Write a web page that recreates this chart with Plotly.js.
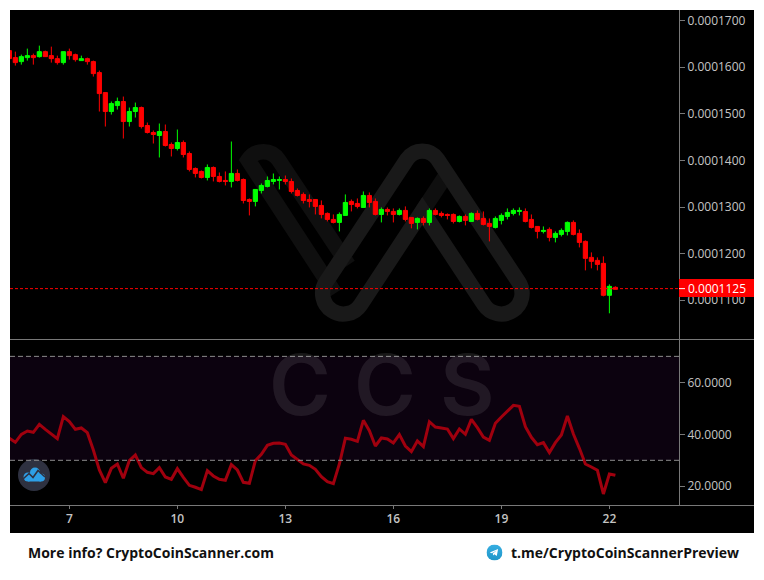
<!DOCTYPE html>
<html>
<head>
<meta charset="utf-8">
<script src="https://cdn.plot.ly/plotly-3.0.1.min.js"></script>
<style>
  html, body { margin: 0; padding: 0; background: #fff; }
  #chart { width: 764px; height: 580px; }
</style>
</head>
<body>
<div id="chart"></div>
<script>
// 4h candles
const opens = [
  0.00016354, 0.00016204, 0.00016118, 0.00016204, 0.00016247, 0.00016225, 0.00016332, 0.00016247, 0.00016182, 0.00016097,
  0.00016332, 0.00016268, 0.00016140, 0.00016182, 0.00016118, 0.00015883, 0.00015454, 0.00015048, 0.00015176, 0.00015262,
  0.00014833, 0.00015048, 0.00015133, 0.00014748, 0.00014598, 0.00014534, 0.00014619, 0.00014341, 0.00014255, 0.00014384,
  0.00014148, 0.00013827, 0.00013763, 0.00013634, 0.00013848, 0.00013656, 0.00013570, 0.00013549, 0.00013720, 0.00013591,
  0.00013162, 0.00013120, 0.00013355, 0.00013441, 0.00013548, 0.00013569, 0.00013591, 0.00013548, 0.00013355, 0.00013270,
  0.00013162, 0.00013162, 0.00013034, 0.00012863, 0.00012734, 0.00012670, 0.00012820, 0.00013120, 0.00013077, 0.00012991,
  0.00013248, 0.00013120, 0.00012841, 0.00012948, 0.00012906, 0.00012841, 0.00012927, 0.00012777, 0.00012670, 0.00012755,
  0.00012670, 0.00012927, 0.00012863, 0.00012841, 0.00012841, 0.00012691, 0.00012798, 0.00012691, 0.00012863, 0.00012755,
  0.00012648, 0.00012563, 0.00012713, 0.00012798, 0.00012863, 0.00012905, 0.00012905, 0.00012734, 0.00012584, 0.00012477,
  0.00012520, 0.00012349, 0.00012413, 0.00012477, 0.00012670, 0.00012434, 0.00012263, 0.00011920, 0.00011856, 0.00011792,
  0.00011107, 0.00011278
];
const highs = [
  0.00016354, 0.00016332, 0.00016268, 0.00016397, 0.00016290, 0.00016461, 0.00016354, 0.00016439, 0.00016247, 0.00016332,
  0.00016397, 0.00016290, 0.00016247, 0.00016204, 0.00016140, 0.00015926, 0.00015454, 0.00015262, 0.00015347, 0.00015369,
  0.00015133, 0.00015240, 0.00015155, 0.00014812, 0.00014641, 0.00014791, 0.00014769, 0.00014384, 0.00014662, 0.00014427,
  0.00014191, 0.00013848, 0.00013784, 0.00013913, 0.00013870, 0.00013741, 0.00013763, 0.00014405, 0.00013806, 0.00013612,
  0.00013184, 0.00013377, 0.00013505, 0.00013655, 0.00013719, 0.00013655, 0.00013676, 0.00013612, 0.00013398, 0.00013312,
  0.00013270, 0.00013162, 0.00013141, 0.00012884, 0.00012841, 0.00012884, 0.00013270, 0.00013162, 0.00013184, 0.00013334,
  0.00013312, 0.00013184, 0.00012991, 0.00012991, 0.00012970, 0.00012970, 0.00013013, 0.00012777, 0.00012777, 0.00012798,
  0.00012970, 0.00012970, 0.00012905, 0.00012863, 0.00012863, 0.00012820, 0.00012841, 0.00012884, 0.00012927, 0.00012905,
  0.00012755, 0.00012798, 0.00012863, 0.00012970, 0.00012970, 0.00012991, 0.00012970, 0.00012841, 0.00012584, 0.00012584,
  0.00012563, 0.00012477, 0.00012541, 0.00012691, 0.00012713, 0.00012520, 0.00012284, 0.00012027, 0.00011920, 0.00011942,
  0.00011342, 0.00011299
];
const lows = [
  0.00016182, 0.00016033, 0.00016054, 0.00016140, 0.00016054, 0.00016204, 0.00016225, 0.00016097, 0.00016054, 0.00016054,
  0.00016161, 0.00016118, 0.00016140, 0.00016054, 0.00015797, 0.00015048, 0.00014726, 0.00014983, 0.00015090, 0.00014469,
  0.00014726, 0.00014919, 0.00014684, 0.00014576, 0.00014362, 0.00014063, 0.00014298, 0.00014084, 0.00014212, 0.00014063,
  0.00013763, 0.00013634, 0.00013613, 0.00013570, 0.00013549, 0.00013527, 0.00013463, 0.00013420, 0.00013549, 0.00013077,
  0.00012820, 0.00013013, 0.00013291, 0.00013420, 0.00013484, 0.00013377, 0.00013484, 0.00013291, 0.00013227, 0.00013077,
  0.00012991, 0.00012841, 0.00012756, 0.00012691, 0.00012649, 0.00012477, 0.00012820, 0.00012906, 0.00012970, 0.00012991,
  0.00012991, 0.00012820, 0.00012670, 0.00012820, 0.00012670, 0.00012820, 0.00012691, 0.00012542, 0.00012520, 0.00012606,
  0.00012606, 0.00012820, 0.00012777, 0.00012734, 0.00012648, 0.00012670, 0.00012606, 0.00012691, 0.00012713, 0.00012606,
  0.00012263, 0.00012541, 0.00012627, 0.00012734, 0.00012820, 0.00012820, 0.00012670, 0.00012541, 0.00012327, 0.00012434,
  0.00012263, 0.00012242, 0.00012370, 0.00012391, 0.00012391, 0.00012134, 0.00011642, 0.00011685, 0.00011642, 0.00011085,
  0.00010721, 0.00011235
];
const closes = [
  0.00016182, 0.00016097, 0.00016225, 0.00016247, 0.00016204, 0.00016332, 0.00016225, 0.00016182, 0.00016097, 0.00016332,
  0.00016247, 0.00016161, 0.00016182, 0.00016118, 0.00015861, 0.00015433, 0.00015048, 0.00015219, 0.00015262, 0.00014833,
  0.00015048, 0.00015133, 0.00014726, 0.00014598, 0.00014555, 0.00014619, 0.00014320, 0.00014255, 0.00014384, 0.00014127,
  0.00013806, 0.00013720, 0.00013634, 0.00013848, 0.00013656, 0.00013549, 0.00013549, 0.00013720, 0.00013570, 0.00013141,
  0.00013120, 0.00013377, 0.00013462, 0.00013569, 0.00013591, 0.00013591, 0.00013548, 0.00013334, 0.00013248, 0.00013141,
  0.00013120, 0.00013013, 0.00012841, 0.00012734, 0.00012670, 0.00012841, 0.00013098, 0.00013055, 0.00013013, 0.00013248,
  0.00013098, 0.00012841, 0.00012948, 0.00012906, 0.00012841, 0.00012927, 0.00012734, 0.00012649, 0.00012756, 0.00012670,
  0.00012927, 0.00012841, 0.00012820, 0.00012820, 0.00012691, 0.00012798, 0.00012713, 0.00012863, 0.00012734, 0.00012627,
  0.00012584, 0.00012755, 0.00012820, 0.00012884, 0.00012927, 0.00012927, 0.00012691, 0.00012563, 0.00012477, 0.00012498,
  0.00012349, 0.00012434, 0.00012498, 0.00012670, 0.00012413, 0.00012242, 0.00011899, 0.00011835, 0.00011770, 0.00011107,
  0.00011299, 0.00011235
];
const rsi = [
  38.46, 36.92, 40.00, 41.28, 40.77, 43.85, 41.92, 40.26, 38.33, 46.79,
  44.87, 41.92, 42.44, 40.64, 33.97, 26.28, 21.41, 26.92, 28.59, 23.08,
  29.87, 32.05, 27.18, 25.38, 24.87, 27.18, 23.59, 22.69, 26.79, 23.46,
  20.38, 19.62, 18.72, 26.03, 23.97, 22.69, 22.31, 28.33, 26.28, 21.54,
  21.15, 29.87, 32.31, 35.77, 36.54, 36.67, 36.15, 32.05, 30.38, 28.59,
  28.08, 26.54, 23.72, 21.79, 21.03, 28.59, 38.46, 38.08, 37.31, 45.38,
  41.41, 35.51, 38.59, 38.21, 36.67, 39.87, 35.51, 33.33, 37.44, 35.26,
  44.87, 42.82, 42.44, 42.05, 38.33, 42.05, 40.00, 45.77, 42.56, 38.97,
  37.69, 44.23, 46.67, 49.10, 51.15, 50.77, 42.95, 38.85, 36.03, 36.79,
  32.95, 36.79, 39.74, 47.05, 40.13, 34.62, 28.59, 27.44, 26.15, 17.05,
  24.74, 24.23
];
const candleIndex = opens.map((_, i) => i);

const dayTickIndex = [10, 28, 46, 64, 82, 100];
const dayTickLabels = ['7', '10', '13', '16', '19', '22'];
const priceTicks = [0.00011, 0.00012, 0.00013, 0.00014, 0.00015, 0.00016, 0.00017];
const rsiTicks = [20, 40, 60];
const rsiBandLow = 30;
const rsiBandHigh = 70;
const lastPrice = 0.0001125;

const FONT = '"Open Sans", sans-serif';
const axisColor = '#787878';
const labelColor = '#c4c4c4';

// paper coords from picture pixels (plot area is 10..679 x 10..505)
const paperX = px => (px - 10) / 669;
const paperY = py => (505 - py) / 495;

const svgUri = body => 'data:image/svg+xml;charset=utf-8,' + encodeURIComponent(body);

const logoSvg = `<svg xmlns="http://www.w3.org/2000/svg" viewBox="0 0 960 630" width="960" height="630">
  <g fill="none" stroke-width="46">
    <path stroke="#0f0f0f" d="M330 490 L69 90 A55 55 0 0 1 161 90 L370 405 M592 243 L668 128"/>
    <path stroke="#191919" stroke-linejoin="miter" d="M592 243 L407 524 A62 62 0 0 1 303 456 L546 88 A55 55 0 0 1 638 88 L881 456 A62 62 0 0 1 777 524 Z"/>
  </g>
</svg>`;

const cloudSvg = `<svg xmlns="http://www.w3.org/2000/svg" viewBox="0 0 32 32" width="128" height="128">
  <circle cx="16" cy="16" r="16" fill="#2e3140"/>
  <g fill="#2e9fe6"><circle cx="10" cy="18" r="4.5"/><circle cx="17" cy="13.5" r="5"/><circle cx="23" cy="18.5" r="4"/><rect x="10" y="16" width="13" height="6.5"/></g>
  <path d="M5 20 L11 14.5 L15 18.5 L20 11.5 L27 18" fill="none" stroke="#2e3140" stroke-width="1.6"/>
</svg>`;

const telegramSvg = `<svg xmlns="http://www.w3.org/2000/svg" viewBox="0 0 16 16" width="64" height="64">
  <defs><linearGradient id="g" x1="0" y1="0" x2="0" y2="1"><stop offset="0" stop-color="#37aee2"/><stop offset="1" stop-color="#1e96c8"/></linearGradient></defs>
  <circle cx="8" cy="8" r="8" fill="url(#g)"/>
  <path d="M3.2 7.9 L11.6 4.6 L10.3 11.6 L7.8 9.8 L6.6 11 L6.3 9 L10.2 5.9 L5.3 8.8 Z" fill="#fff"/>
</svg>`;

const candles = {
  type: 'candlestick',
  x: candleIndex,
  open: opens,
  high: highs,
  low: lows,
  close: closes,
  xaxis: 'x',
  yaxis: 'y',
  whiskerwidth: 0,
  increasing: { line: { color: '#00ff00', width: 1 }, fillcolor: '#00ff00' },
  decreasing: { line: { color: '#ff0000', width: 1 }, fillcolor: '#ff0000' },
  hoverinfo: 'skip',
  showlegend: false,
};

const rsiLine = {
  type: 'scatter',
  mode: 'lines',
  x: candleIndex,
  y: rsi,
  xaxis: 'x',
  yaxis: 'y2',
  line: { color: '#a0000e', width: 3 },
  hoverinfo: 'skip',
  showlegend: false,
};

const whiteStrip = (x0, x1, y0, y1) => ({
  type: 'rect', xref: 'paper', yref: 'paper', layer: 'below',
  x0: paperX(x0), x1: paperX(x1), y0: paperY(y0), y1: paperY(y1),
  fillcolor: '#ffffff', line: { width: 0 },
});

const hLinePx = py => ({
  type: 'line', xref: 'paper', yref: 'paper',
  x0: 0, x1: paperX(754), y0: paperY(py), y1: paperY(py),
  line: { color: axisColor, width: 1 },
});

const rsiGuide = value => ({
  type: 'line', xref: 'paper', yref: 'y2',
  x0: 0, x1: 1, y0: value, y1: value,
  line: { color: '#8c8c8c', width: 1, dash: '5px,3px' },
});

const shapes = [
  whiteStrip(0, 10, 0, 580),
  whiteStrip(754, 764, 0, 580),
  whiteStrip(0, 764, 0, 10),
  whiteStrip(0, 764, 533, 580),
  { type: 'rect', xref: 'paper', yref: 'y2', layer: 'below', x0: 0, x1: 1, y0: rsiBandLow, y1: rsiBandHigh, fillcolor: '#0c020f', line: { width: 0 } },
  rsiGuide(rsiBandLow),
  rsiGuide(rsiBandHigh),
  hLinePx(339.5),
  hLinePx(505.5),
  { type: 'line', xref: 'paper', yref: 'y', x0: 0, x1: 1, y0: lastPrice, y1: lastPrice, line: { color: '#ff0000', width: 1, dash: '3px,2px' } },
  { type: 'rect', xref: 'paper', yref: 'paper', x0: 1, x1: paperX(754), y0: paperY(279), y1: paperY(297), fillcolor: '#ff0000', line: { width: 0 } },
  { type: 'line', xref: 'paper', yref: 'y', x0: 1, x1: paperX(685), y0: lastPrice, y1: lastPrice, line: { color: '#ffffff', width: 1 } },
];

const watermarkLetter = (text, centerPx) => ({
  text, xref: 'paper', yref: 'paper', x: paperX(centerPx), y: paperY(384),
  xanchor: 'center', yanchor: 'middle', showarrow: false,
  font: { family: 'Inter, sans-serif', size: 84, weight: 600, color: 'rgba(255,255,255,0.09)' },
});

const footerText = (text, leftPx) => ({
  text, xref: 'paper', yref: 'paper', x: paperX(leftPx), y: paperY(552.5),
  xanchor: 'left', yanchor: 'middle', showarrow: false, borderpad: 0, xshift: -1,
  font: { family: FONT, size: 14, weight: 700, color: '#111111' },
});

const annotations = [
  watermarkLetter('C', 300),
  watermarkLetter('C', 385),
  watermarkLetter('S', 467),
  {
    text: '0.0001125', xref: 'paper', yref: 'paper', x: paperX(688), y: paperY(288),
    xanchor: 'left', yanchor: 'middle', showarrow: false, borderpad: 0, xshift: -1,
    font: { family: FONT, size: 12, color: '#ffffff' },
  },
  footerText('More info? CryptoCoinScanner.com', 28),
  footerText('t.me/CryptoCoinScannerPreview', 511),
];

const images = [
  { source: svgUri(logoSvg), xref: 'paper', yref: 'paper', x: paperX(225), y: paperY(130), sizex: 320 / 669, sizey: 210 / 495, sizing: 'stretch', xanchor: 'left', yanchor: 'top', layer: 'below' },
  { source: svgUri(cloudSvg), xref: 'paper', yref: 'paper', x: paperX(18), y: paperY(459), sizex: 32 / 669, sizey: 32 / 495, sizing: 'stretch', xanchor: 'left', yanchor: 'top', layer: 'above' },
  { source: svgUri(telegramSvg), xref: 'paper', yref: 'paper', x: paperX(486.5), y: paperY(544.5), sizex: 16 / 669, sizey: 16 / 495, sizing: 'stretch', xanchor: 'left', yanchor: 'top', layer: 'above' },
];

const layout = {
  width: 764,
  height: 580,
  margin: { l: 10, r: 85, t: 10, b: 75, pad: 0 },
  paper_bgcolor: '#000000',
  plot_bgcolor: 'rgba(0,0,0,0)',
  showlegend: false,
  boxgap: 0.3,
  boxgroupgap: 0,
  font: { family: FONT, size: 12, color: labelColor },
  xaxis: {
    domain: [0, 1],
    anchor: 'y2',
    range: [0.11, 111.6],
    tickmode: 'array',
    tickvals: dayTickIndex,
    ticktext: dayTickLabels,
    ticks: 'outside',
    ticklen: 3,
    tickcolor: axisColor,
    showgrid: false,
    zeroline: false,
    showline: false,
    rangeslider: { visible: false },
    tickfont: { family: FONT, size: 12, weight: 600, color: labelColor },
  },
  yaxis: {
    domain: [166 / 495, 1],
    anchor: 'x',
    side: 'right',
    range: [0.00010170, 0.00017225],
    tickmode: 'array',
    tickvals: priceTicks,
    tickformat: '.7f',
    ticks: 'outside',
    ticklen: 5,
    tickcolor: axisColor,
    showgrid: false,
    zeroline: false,
    showline: true,
    linecolor: axisColor,
    linewidth: 1,
    tickfont: { family: FONT, size: 12, color: labelColor },
  },
  yaxis2: {
    domain: [0, 165 / 495],
    anchor: 'x',
    side: 'right',
    range: [12.8, 76.3],
    tickmode: 'array',
    tickvals: rsiTicks,
    tickformat: '.4f',
    ticks: 'outside',
    ticklen: 5,
    tickcolor: axisColor,
    showgrid: false,
    zeroline: false,
    showline: true,
    linecolor: axisColor,
    linewidth: 1,
    tickfont: { family: FONT, size: 12, color: labelColor },
  },
  shapes,
  annotations,
  images,
};

Plotly.newPlot('chart', [candles, rsiLine], layout, { displayModeBar: false, staticPlot: true });
</script>
</body>
</html>
